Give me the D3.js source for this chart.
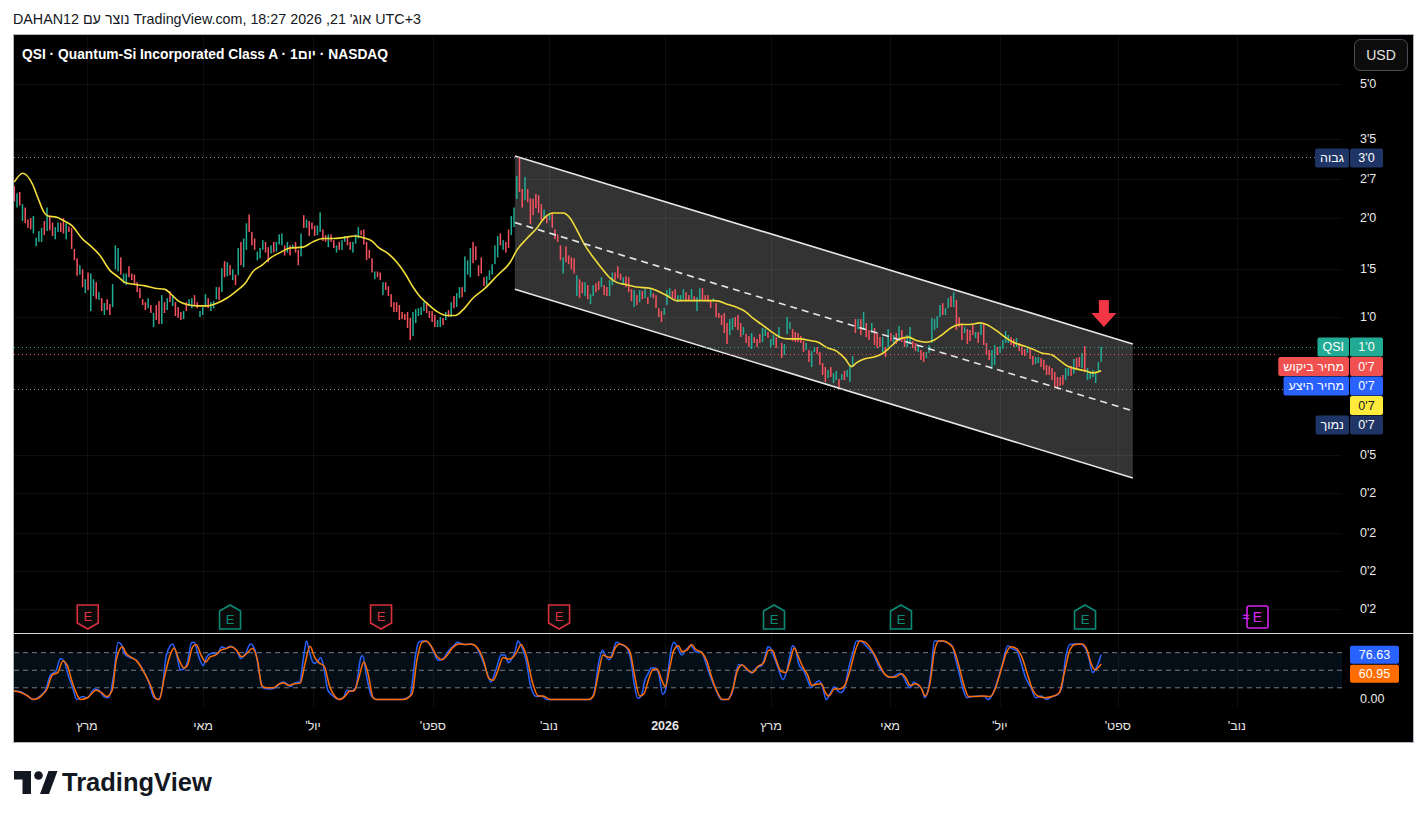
<!DOCTYPE html>
<html><head><meta charset="utf-8">
<script src="https://cdn.jsdelivr.net/npm/d3@7/dist/d3.min.js"></script>
<style>
html,body{margin:0;padding:0;background:#fff;}
body{width:1427px;height:819px;overflow:hidden;}
svg{display:block;font-family:"Liberation Sans",Arial,sans-serif;}
</style></head><body>
<svg id="c" width="1427" height="819"></svg>
<script>
// ---------- DATA ----------
const opens=[2.47,2.13,2.37,1.94,2.13,1.96,1.98,1.78,1.63,1.68,
1.68,1.94,1.81,2.02,1.92,1.71,1.80,1.92,1.98,1.71,
1.87,1.85,1.60,1.50,1.34,1.39,1.179,1.36,1.042,1.155,
1.272,1.124,1.139,1.014,1.131,1.093,1.071,1.39,1.37,1.51,
1.263,1.246,1.42,1.35,1.34,1.272,1.220,1.131,1.108,1.063,
1.086,0.933,1.086,1.116,0.953,1.108,1.049,1.196,1.078,1.108,
1.071,1.035,0.986,1.108,1.078,1.063,1.163,1.108,1.000,1.014,
1.071,1.139,1.042,1.063,1.131,1.229,1.187,1.47,1.325,1.43,
1.29,1.34,1.334,1.68,1.41,1.59,2.03,1.80,1.72,1.48,
1.50,1.59,1.68,1.62,1.55,1.68,1.57,1.65,1.64,1.64,
1.56,1.64,1.61,1.68,1.59,1.52,2.02,1.85,1.94,1.92,
1.88,1.76,1.80,1.83,1.76,1.62,1.77,1.70,1.56,1.68,
1.59,1.68,1.73,1.68,1.56,1.66,1.72,1.82,1.83,1.68,
1.59,1.50,1.298,1.37,1.36,1.163,1.272,1.237,1.171,1.108,
1.108,1.086,1.035,1.021,1.035,0.993,0.877,0.959,1.007,1.014,
1.042,1.108,1.042,1.042,1.014,0.933,0.933,0.993,0.979,1.049,
1.000,1.155,1.071,1.139,1.229,1.187,1.34,1.316,1.68,1.63,
1.43,1.51,1.316,1.246,1.29,1.34,1.44,1.51,1.78,1.59,
1.68,1.83,1.76,1.86,2.26,3.02,2.42,2.24,2.42,2.27,
2.26,2.34,2.32,2.18,1.98,2.01,1.95,2.05,1.83,1.77,
1.64,1.35,1.63,1.53,1.51,1.50,1.155,1.298,1.272,1.155,
1.246,1.093,1.155,1.263,1.281,1.229,1.246,1.229,1.155,1.246,
1.36,1.42,1.35,1.255,1.325,1.316,1.212,1.071,1.163,1.108,
1.196,1.139,1.147,1.147,1.179,1.163,1.063,1.042,1.014,1.086,
1.147,1.196,1.212,1.108,1.116,1.131,1.187,1.163,1.131,1.155,
1.042,1.116,1.220,1.163,1.163,1.124,1.116,1.101,1.028,1.014,
1.028,0.959,0.883,0.914,1.000,1.014,0.959,0.883,0.889,0.877,
0.802,0.871,0.859,0.889,0.841,0.877,0.902,0.813,0.824,0.871,
0.865,0.836,0.769,0.889,0.920,0.920,0.902,0.895,0.877,0.847,
0.796,0.796,0.708,0.785,0.813,0.785,0.728,0.708,0.656,0.708,
0.634,0.647,0.652,0.647,0.689,0.661,0.638,0.708,0.986,0.920,
0.986,0.914,0.959,0.914,0.895,0.927,0.895,0.871,0.785,0.813,
0.813,0.895,0.836,0.895,0.865,0.914,0.871,0.813,0.836,0.847,
0.836,0.785,0.796,0.785,0.753,0.780,0.836,0.914,0.927,1.000,
1.101,1.014,1.063,1.155,1.071,1.124,1.000,0.959,0.895,0.920,
0.914,0.946,0.865,0.902,0.883,0.959,0.836,0.796,0.698,0.718,
0.813,0.780,0.802,0.836,0.836,0.871,0.859,0.813,0.836,0.818,
0.802,0.780,0.802,0.764,0.723,0.728,0.753,0.743,0.718,0.713,
0.703,0.684,0.661,0.661,0.670,0.647,0.666,0.713,0.675,0.753,
0.758,0.703,0.818,0.647,0.652,0.661,0.634,0.684,0.733];
const closes=[2.22,2.35,2.16,2.18,1.91,1.85,1.83,2.01,1.73,1.81,
1.85,1.76,2.13,1.82,1.75,1.86,1.92,1.80,1.78,1.91,
1.80,1.60,1.48,1.33,1.43,1.229,1.298,1.204,1.35,1.298,
1.131,1.187,1.042,1.101,1.049,1.014,1.255,1.64,1.61,1.34,
1.35,1.35,1.316,1.29,1.246,1.187,1.139,1.086,1.049,1.139,
1.028,1.028,0.979,0.953,1.163,1.028,1.139,1.108,1.163,1.007,
0.993,0.979,1.042,1.042,1.131,1.139,1.086,1.063,1.042,1.071,
1.171,1.063,1.108,1.116,1.229,1.124,1.40,1.316,1.46,1.334,
1.39,1.246,1.61,1.43,1.72,1.91,1.80,1.64,1.59,1.57,
1.61,1.70,1.56,1.46,1.64,1.56,1.68,1.77,1.78,1.53,
1.68,1.53,1.65,1.56,1.43,1.78,1.85,1.96,1.75,1.83,
1.75,1.88,2.06,1.69,1.68,1.77,1.68,1.61,1.64,1.59,
1.70,1.75,1.64,1.59,1.68,1.77,1.86,1.76,1.65,1.48,
1.50,1.36,1.37,1.316,1.29,1.272,1.204,1.155,1.071,1.035,
1.035,0.979,0.986,0.979,0.927,0.853,1.035,1.056,1.063,1.071,
1.108,1.028,0.993,0.966,0.933,0.979,1.000,0.946,1.035,1.000,
1.108,1.063,1.179,1.229,1.147,1.52,1.48,1.61,1.45,1.48,
1.325,1.35,1.237,1.325,1.38,1.44,1.64,1.75,1.64,1.70,
1.56,1.61,2.01,2.13,2.65,2.37,2.13,2.63,2.21,1.90,
2.02,2.12,2.05,1.95,2.10,1.91,2.05,1.85,1.71,1.68,
1.48,1.51,1.46,1.44,1.39,1.35,1.334,1.139,1.179,1.272,
1.131,1.171,1.246,1.187,1.204,1.316,1.163,1.155,1.29,1.36,
1.29,1.307,1.29,1.316,1.229,1.187,1.116,1.204,1.086,1.204,
1.131,1.212,1.093,1.220,1.139,1.063,1.000,0.966,1.063,1.204,
1.220,1.139,1.131,1.163,1.163,1.212,1.116,1.124,1.212,1.116,
1.147,1.220,1.124,1.116,1.108,1.063,1.139,1.000,0.993,0.946,
0.895,0.830,0.986,0.993,0.933,0.914,0.871,0.933,0.836,0.813,
0.895,0.836,0.813,0.836,0.927,0.920,0.865,0.859,0.883,0.807,
0.933,0.753,0.830,1.000,0.966,0.847,0.841,0.841,0.836,0.785,
0.836,0.733,0.790,0.813,0.774,0.718,0.670,0.638,0.694,0.661,
0.679,0.689,0.609,0.675,0.647,0.694,0.718,0.764,0.895,0.986,
0.883,1.035,0.871,0.853,0.959,0.824,0.807,0.813,0.871,0.758,
0.920,0.847,0.883,0.830,0.940,0.841,0.813,0.883,0.933,0.807,
0.790,0.824,0.743,0.733,0.785,0.824,0.993,0.986,1.007,1.086,
1.014,1.063,1.139,1.071,1.187,0.914,0.933,0.853,0.933,0.830,
0.847,0.883,0.902,0.836,0.959,0.824,0.769,0.743,0.796,0.824,
0.769,0.818,0.853,0.908,0.883,0.824,0.813,0.865,0.790,0.769,
0.764,0.813,0.748,0.718,0.758,0.758,0.708,0.694,0.670,0.670,
0.647,0.617,0.609,0.621,0.626,0.703,0.703,0.666,0.748,0.698,
0.708,0.780,0.684,0.703,0.684,0.694,0.684,0.733,0.813];
// moving average (bar index, value)
const maPts=[[0,2.54],[3.1,2.70],[6.7,2.50],[8.7,2.27],[10.9,2.06],[12.3,2.01],[15.6,1.99],[17.8,1.95],[21.1,1.88],[24.8,1.72],[27.7,1.64],[31.4,1.53],[35,1.38],[38,1.32],[40.5,1.27],[44.9,1.25],[47.9,1.24],[51.5,1.22],[55.2,1.21],[57,1.18],[59.9,1.12],[63.2,1.09],[66.9,1.08],[70.6,1.08],[74.2,1.10],[77.9,1.14],[81.5,1.20],[84.5,1.26],[87.4,1.37],[90.7,1.43],[93.6,1.50],[97.3,1.56],[100.9,1.61],[105.7,1.62],[109.3,1.68],[113,1.72],[116.7,1.72],[120.4,1.73],[124.8,1.75],[127.7,1.73],[131,1.69],[133.2,1.62],[136.9,1.55],[140.1,1.46],[143.1,1.35],[146,1.23],[148.6,1.15],[151.1,1.10],[154.7,1.04],[158.3,1.01],[161.4,1.01],[164.3,1.05],[168,1.14],[172.4,1.22],[176.8,1.33],[181.6,1.46],[184.1,1.59],[187.7,1.72],[191.4,1.85],[194.3,1.99],[197.3,2.05],[200.9,2.05],[203.5,1.98],[205.3,1.87],[209,1.64],[212,1.51],[215.1,1.40],[218.1,1.31],[220.6,1.27],[224.2,1.25],[227.9,1.23],[232.8,1.22],[235.2,1.20],[238.9,1.16],[242.5,1.12],[247.4,1.12],[252.3,1.12],[256.6,1.12],[261.4,1.09],[264.5,1.07],[267.6,1.04],[270.6,0.99],[273.7,0.95],[276.7,0.91],[280.4,0.87],[283.4,0.86],[287.7,0.86],[291.4,0.85],[294.4,0.84],[297.5,0.81],[301.1,0.79],[304.2,0.75],[306.6,0.71],[308.5,0.73],[311.5,0.75],[315.2,0.76],[318.2,0.78],[321.3,0.82],[324.3,0.86],[327.4,0.87],[330.4,0.85],[334.1,0.84],[336.5,0.85],[340.2,0.89],[343.2,0.93],[346.3,0.95],[349.9,0.95],[353.6,0.96],[356,0.95],[359.7,0.91],[362.8,0.87],[365.8,0.84],[369.5,0.82],[373.1,0.80],[376.2,0.78],[379.9,0.77],[382.9,0.74],[386,0.71],[388.4,0.70],[392.1,0.69],[395.1,0.68],[398,0.69]];
// stochastic %K and %D (bar index, value)
const stochK=[[-0.8,14],[1.7,14],[4.3,8],[6.9,0],[9.4,6],[11.4,16],[13.3,42],[15.2,48],[16.9,70],[18.2,66],[19.7,42],[21.3,21],[22.9,0],[24.9,5],[26.8,3],[29.3,18],[31,16],[32.8,5],[34.5,3],[36.4,42],[38,98],[39.2,94],[40.3,78],[42.2,72],[44.1,69],[46.7,54],[49.2,30],[51.2,3],[52.8,0],[54.1,18],[55.7,76],[58,95],[59.5,75],[60.8,51],[62.1,52],[63.4,64],[64.9,97],[65.9,98],[67.2,78],[69.2,58],[70.4,72],[72.4,79],[74.3,78],[76,90],[77.5,87],[79,91],[81.4,84],[82.9,70],[84.6,78],[86.5,95],[88.4,81],[89.7,45],[91,20],[93.6,18],[95.5,20],[97.4,28],[98.7,30],[100,26],[101.3,22],[102.5,28],[104.5,30],[106,75],[107,100],[108.1,81],[109.6,62],[110.9,64],[112.2,72],[113.5,51],[114.8,16],[116.7,6],[118.6,0],[120.5,3],[121.8,16],[123.1,14],[125,20],[127,73],[127.6,75],[128.9,42],[130.8,6],[132.7,0],[136.6,0],[141.7,0],[144.9,6],[146.9,75],[148.1,98],[149.4,100],[151.4,98],[153.3,84],[155.2,67],[157.1,70],[159.1,84],[161,92],[162.3,98],[164.8,94],[166.8,95],[168.7,92],[171.3,69],[173.2,45],[174.5,30],[176.4,51],[178.3,76],[179.6,76],[180.9,63],[182.2,70],[183.5,84],[184.4,100],[185.6,92],[187.3,69],[189.2,21],[191.2,5],[193.1,6],[195,0],[197.6,0],
[199.8,0],[203.7,0],[207.6,0],[210.8,0],[212.5,15],[213.8,57],[215.4,84],[216.7,73],[217.9,68],[219.2,82],[220.5,98],[221.8,95],[223.1,92],[224.4,87],[225.7,69],[227,27],[228.3,2],[229.6,6],[230.9,33],[232.2,45],[233.2,54],[234.8,54],[236.1,42],[237.4,9],[238.4,15],[239.3,45],[240.6,87],[241.5,98],[242.6,91],[244.5,76],[245.8,84],[247.8,92],[249.7,81],[251.6,81],[253.2,63],[254.9,39],[256.8,18],[258.8,0],[260.7,0],[262.7,9],[264,39],[265.3,60],[266.9,58],[268.5,50],[270.1,45],[271.7,54],[273.7,58],[275,75],[276,90],[276.9,88],[278,75],[279.5,57],[281.5,34],[282.8,48],[284.1,76],[285,92],[286,87],[287.3,60],[289.2,48],[290.5,33],[291.8,20],[293.1,27],[294.7,32],[296,21],[297.3,0],[298.6,9],[300.3,22],[301.5,15],[302.8,12],[304.1,21],[305.4,51],[307.1,81],[308.4,100],[310,100],[311.3,95],[312.8,87],[314.5,78],[316.5,57],[318.4,45],[320.3,38],[322.3,40],[324.2,45],[325.5,40],[326.8,27],[328.1,20],[329.4,30],[331,24],[332.7,15],[333.3,3],[334.6,15],[335.9,57],[336.9,100],[338.2,100],[339.8,100],[341.7,97],[343.4,92],[344.7,69],[346.3,39],[347.6,15],[348.9,3],[350.8,5],[353.4,6],[355.3,5],[356.6,0],[357.9,6],[359.9,30],[361.8,60],[363.8,92],[365.4,87],[367,84],[368.3,69],[370.2,39],[372.2,21],[374.1,3],[376.1,6],[378,0],[380,5],[381.9,8],[383.6,21],[384.9,69],[386.5,94],[388.4,95],[390.3,95],[392.3,87],[393.6,69],[394.9,46],[396.2,54],[398,76.63]];
const stochD=[[-0.8,15],[2.4,12],[4.9,6],[7.1,0],[10.1,7],[12,18],[13.9,42],[15.9,46],[17.8,66],[19.5,57],[21,33],[22.9,9],[24.2,0],[26.8,3],[30,16],[31.9,12],[33.8,5],[35.8,15],[37.4,69],[39.6,90],[40.9,79],[42.8,72],[44.8,66],[47.3,48],[49.9,24],[51.8,2],[53.1,0],[55,39],[57,75],[58.5,88],[60.2,69],[62.1,54],[63.4,58],[65.3,90],[66.6,94],[68.5,75],[70.1,64],[71.7,73],[73.7,76],[75.6,84],[77.5,87],[79.4,90],[81.4,84],[83.3,73],[85.2,79],[87.1,87],[89.1,66],[90.6,24],[92.3,20],[94.8,20],[96.8,26],[98.7,28],[100.6,24],[102.5,27],[104.7,28],[106.4,60],[108.3,91],[109.9,73],[111.5,63],[113.5,57],[115.4,24],[117.3,6],[119.2,0],[121.2,6],[122.7,14],[124.4,15],[126.1,36],[128,64],[129.5,45],[131.4,3],[132.7,0],[137.2,0],[142.4,0],[145.6,9],[147.5,69],[149.2,97],[150.7,100],[152.6,92],[154.6,75],[156.5,68],[158.4,75],[160.4,88],[162.9,95],[165.5,94],[167.4,95],[169.3,90],[171.9,66],[173.8,36],[175.4,33],[177,48],[179,72],[180.9,69],[182.6,72],[184.1,82],[185.6,94],[187.3,78],[189.9,27],[191.8,6],[193.7,6],[196.3,0],
[199.8,0],[205,0],[210.2,0],[212.1,6],[213.8,42],[215.6,76],[217,73],[218.6,72],[219.9,87],[221.8,95],[223.8,91],[225.5,81],[227,45],[229,6],[230.6,10],[232.2,33],[233.8,51],[235.4,52],[237.1,33],[238.4,22],[240,54],[241.5,84],[243.2,92],[244.5,82],[246.2,84],[248,94],[249.7,85],[251.6,81],[253.6,66],[255.3,39],[257.5,12],[259.4,0],[261.4,0],[263.3,21],[264.9,51],[266.6,59],[268.5,51],[270.4,46],[272.4,57],[274.3,62],[276.3,84],[277.6,84],[279.1,66],[280.8,48],[282.5,46],[284.1,66],[285.6,88],[286.9,76],[288.6,57],[290.5,42],[292.1,24],[293.8,26],[295.5,27],[297,12],[298.3,6],[300.3,18],[302.2,18],[304.1,24],[306.1,51],[308,84],[309.7,100],[311.5,98],[313.2,90],[315.2,75],[317.1,57],[319,42],[321,38],[322.9,39],[324.9,44],[326.6,36],[328.1,24],[330.1,27],[331.8,22],[333.6,6],[335.3,27],[336.9,81],[338.5,100],[340.4,100],[342.4,95],[343.9,87],[345.6,63],[347.6,27],[349.5,5],[352.1,5],[354.7,6],[357.3,5],[359.2,18],[361.2,48],[363.4,81],[365.1,90],[367,87],[369,72],[370.9,45],[372.8,18],[374.8,6],[377.4,3],[380,5],[382.6,11],[384.5,45],[386.5,84],[388.4,94],[391,95],[392.9,84],[394.2,63],[395.8,51],[398,60.95]];
// parallel channel anchors (bar index, price)
const channelIdx=[183.3,409.6];
const channelTop=[3.04,0.830];
const channelBottom=[1.212,0.329];
// price axis ticks
const priceTickVals=[5.0,3.42,2.59,1.98,1.39,1.0,0.386,0.297,0.225,0.173,0.133];
const priceTickLabels=["5'0","3'5","2'7","2'0","1'5","1'0","0'5","0'2","0'2","0'2","0'2"];
// time axis
const monthIdx=[26.6,69.1,109.4,153.3,195.8,238.3,277.1,320.7,360.9,404.1,447.7];
const monthLabels=["מרץ","מאי","יול'","ספט'","נוב'","2026","מרץ","מאי","יול'","ספט'","נוב'"];
// earnings markers
const earnIdx=[26.9,79.0,134.3,199.5,278.2,324.7,392.1,454.7];
const earnType=["down","up","down","down","up","up","up","future"];
// price labels
const bidPrice=0.774;
const arrowIdx=399, arrowPrice=1.124;
const highName="גבוה", highText="3'0";
const lblNames=["QSI","מחיר ביקוש","מחיר היצע","","נמוך"];
const lblTexts=["1'0","0'7","0'7","0'7","0'7"];
const lblFills=["#22ab94","#f0504f","#2962ff","#ffeb3b","#1e3566"];
const lblInk=["#fff","#fff","#fff","#131722","#fff"];
const stochLast=[76.63,60.95];
const stochLastText=["76.63","60.95"];

// ---------- DRAW ----------
const svg=d3.select('#c');
const UP='#22ab94', DN='#f7525f';
const x=d3.scaleLinear().domain([0,486.2]).range([14.3,1342]);
const y=d3.scaleLog().domain([1,5]).range([317,83.95]);
const ys=d3.scaleLinear().domain([0,100]).range([699.5,641]);

// header
svg.append('text').attr('x',13).attr('y',24).attr('font-size',14.3).attr('fill','#131722')
  .text("DAHAN12 נוצר עם TradingView.com, אוג' 21, 2026 18:27 UTC+3");

// frame
svg.append('rect').attr('x',13.5).attr('y',34.5).attr('width',1400).attr('height',708)
  .attr('fill','#000').attr('stroke','#b2b5be');
const defs=svg.append('defs');
defs.append('clipPath').attr('id','cm').append('rect').attr('x',14).attr('y',35).attr('width',1328).attr('height',598);
defs.append('clipPath').attr('id','cs').append('rect').attr('x',14).attr('y',634).attr('width',1328).attr('height',73);

// grid
const grid=svg.append('g').attr('stroke','rgba(255,255,255,0.055)').attr('stroke-width',1);
monthIdx.forEach(i=>{const xx=Math.round(x(i))+0.5;grid.append('line').attr('x1',xx).attr('x2',xx).attr('y1',35).attr('y2',707);});
priceTickVals.forEach(v=>{const yy=Math.round(y(v))+0.5; if(yy<632) grid.append('line').attr('x1',14).attr('x2',1342).attr('y1',yy).attr('y2',yy);});

const main=svg.append('g').attr('clip-path','url(#cm)');

// channel fill
const cx0=x(channelIdx[0]), cx1=x(channelIdx[1]);
main.append('path').attr('d',`M${cx0},${y(channelTop[0])}L${cx1},${y(channelTop[1])}L${cx1},${y(channelBottom[1])}L${cx0},${y(channelBottom[0])}Z`)
  .attr('fill','rgba(255,255,255,0.2)');

// dotted price lines
function dotted(v,color,x2){main.append('line').attr('x1',14).attr('x2',x2).attr('y1',Math.round(y(v))+0.5).attr('y2',Math.round(y(v))+0.5)
  .attr('stroke',color).attr('stroke-width',1).attr('stroke-dasharray','1,3');}

// candles
const bars=opens.map((o,i)=>({i,o,c:closes[i]}));
main.append('g').selectAll('rect').data(bars).join('rect')
  .attr('x',d=>x(d.i)-0.75).attr('width',1.5)
  .attr('y',d=>Math.min(y(d.o),y(d.c)))
  .attr('height',d=>Math.max(1,Math.abs(y(d.o)-y(d.c))))
  .attr('fill',d=>d.c>=d.o?UP:DN);

// moving average
main.append('path').datum(maPts).attr('fill','none').attr('stroke','#f2dc3a').attr('stroke-width',1.6)
  .attr('d',d3.line().x(d=>x(d[0])).y(d=>y(d[1])).curve(d3.curveMonotoneX));

// channel lines
const midL=Math.sqrt(channelTop[0]*channelBottom[0]), midR=Math.sqrt(channelTop[1]*channelBottom[1]);
[[channelTop,null],[channelBottom,null],[[midL,midR],'7,5']].forEach(([p,dash])=>{
  const l=main.append('line').attr('x1',cx0).attr('x2',cx1).attr('y1',y(p[0])).attr('y2',y(p[1]))
    .attr('stroke','#e6e6e6').attr('stroke-width',1.6);
  if(dash) l.attr('stroke-dasharray',dash);
});

// red arrow
const ag=main.append('g').attr('transform',`translate(${x(arrowIdx)},${y(arrowPrice)})`).attr('fill','#f23645');
ag.append('rect').attr('x',-5).attr('y',0).attr('width',10).attr('height',13);
ag.append('path').attr('d','M-12.5,13L12.5,13L0,27Z');

// earnings markers
earnIdx.forEach((idx,k)=>{
  const t=earnType[k]; const g=svg.append('g').attr('transform',`translate(${x(idx)},617)`);
  if(t==='future'){
    g.append('rect').attr('x',-9).attr('y',-11).attr('width',21).attr('height',22).attr('rx',2)
      .attr('fill','#000').attr('stroke','#d623f0').attr('stroke-width',1.6);
    g.append('text').attr('x',1.5).attr('y',0).attr('text-anchor','middle').attr('dominant-baseline','central')
      .attr('font-size',14).attr('fill','#d623f0').text('E');
    g.append('text').attr('x',-10).attr('y',0).attr('text-anchor','middle').attr('dominant-baseline','central')
      .attr('font-size',12).attr('font-weight','bold').attr('fill','#d623f0').text('≈');
  } else {
    const col=t==='up'?'#0c8a76':'#d9303d';
    const d=t==='up'?'M-10.5,-6L0,-12L10.5,-6L10.5,12L-10.5,12Z':'M-10.5,-12L10.5,-12L10.5,6L0,12L-10.5,6Z';
    g.append('path').attr('d',d).attr('fill','#0a0a0a').attr('stroke',col).attr('stroke-width',1.6);
    g.append('text').attr('x',0).attr('y',t==='up'?2:-1).attr('text-anchor','middle').attr('dominant-baseline','central')
      .attr('font-size',13).attr('fill',col).text('E');
  }
});

// title
svg.append('text').attr('x',22).attr('y',59).attr('font-size',13.8).attr('font-weight','bold').attr('fill','#fff')
  .text("QSI · Quantum-Si Incorporated Class A · 1יום · NASDAQ");

// USD button
svg.append('rect').attr('x',1354.5).attr('y',39.5).attr('width',53).attr('height',31).attr('rx',6)
  .attr('fill','#0c0c0c').attr('stroke','#4a4d57');
svg.append('text').attr('x',1381).attr('y',55).attr('text-anchor','middle').attr('dominant-baseline','central')
  .attr('font-size',14).attr('fill','#e6e6e6').text('USD');

// price axis ticks
priceTickVals.forEach((v,k)=>{
  svg.append('text').attr('x',1360).attr('y',y(v)).attr('dominant-baseline','central')
    .attr('font-size',12.5).attr('fill','#eaeaea').text(priceTickLabels[k]);
});

// axis label boxes
function axisBox(yc,name,val,fill,ink,lineVal,lineCol){
  const g=svg.append('g');
  g.append('rect').attr('x',1350).attr('y',yc-9.5).attr('width',33).attr('height',19).attr('rx',2).attr('fill',fill);
  g.append('text').attr('x',1366.5).attr('y',yc+0.5).attr('text-anchor','middle').attr('dominant-baseline','central')
    .attr('font-size',12.5).attr('fill',ink).text(val);
  let left=1349;
  if(name){
    const t=g.append('text').attr('x',1344).attr('y',yc+0.5).attr('text-anchor','end').attr('dominant-baseline','central')
      .attr('font-size',12.5).attr('fill',ink).text(name);
    const w=t.node().getComputedTextLength();
    left=1349-w-10;
    g.insert('rect',':first-child').attr('x',left).attr('y',yc-9.5).attr('width',1349-left).attr('height',19).attr('rx',2).attr('fill',fill);
  }
  if(lineVal!=null) dotted(lineVal,lineCol,left);
}
const hiVal=d3.max(bars,d=>Math.max(d.o,d.c));
const loVal=d3.min(bars,d=>Math.min(d.o,d.c));
const lastClose=closes[closes.length-1];
axisBox(y(hiVal)+1,highName,highText,'#1e3566','#fff',hiVal,'#8a8d96');
const lineVals=[lastClose,bidPrice,null,null,loVal];
const lineCols=['#22ab94','#f0504f',null,null,'#8a8d96'];
let yc=y(lastClose);
lblNames.forEach((n,k)=>{
  axisBox(yc,n,lblTexts[k],lblFills[k],lblInk[k],lineVals[k],lineCols[k]);
  yc+=19.5;
});

// ---------- stochastic pane ----------
svg.append('line').attr('x1',14).attr('x2',1413).attr('y1',633.5).attr('y2',633.5).attr('stroke','#d8d8d8').attr('stroke-width',1);
const sp=svg.append('g').attr('clip-path','url(#cs)');
sp.append('rect').attr('x',14).attr('width',1328).attr('y',ys(80)).attr('height',ys(20)-ys(80)).attr('fill','rgba(33,150,243,0.09)');
[80,50,20].forEach(v=>sp.append('line').attr('x1',14).attr('x2',1342).attr('y1',ys(v)).attr('y2',ys(v))
  .attr('stroke','#787b86').attr('stroke-width',1).attr('stroke-dasharray','5,4'));
const sl=d3.line().x(d=>x(d[0])).y(d=>ys(d[1])).curve(d3.curveMonotoneX);
sp.append('path').datum(stochK).attr('fill','none').attr('stroke','#2962ff').attr('stroke-width',1.5).attr('d',sl);
sp.append('path').datum(stochD).attr('fill','none').attr('stroke','#ff6d00').attr('stroke-width',1.5).attr('d',sl);
// stoch labels
const sFills=['#2962ff','#ff6d00'];
let sy=ys(stochLast[0]);
stochLast.forEach((v,k)=>{
  const yy=k===0?ys(v):Math.max(ys(v),sy+19);
  svg.append('rect').attr('x',1350).attr('y',yy-9).attr('width',49).attr('height',18).attr('rx',2).attr('fill',sFills[k]);
  svg.append('text').attr('x',1374.5).attr('y',yy+0.5).attr('text-anchor','middle').attr('dominant-baseline','central')
    .attr('font-size',12.5).attr('fill','#fff').text(stochLastText[k]);
  sy=yy;
});
svg.append('text').attr('x',1360).attr('y',ys(0)-1).attr('dominant-baseline','central').attr('font-size',12.5)
  .attr('fill','#eaeaea').text('0.00');

// time axis
monthIdx.forEach((i,k)=>{
  const t=svg.append('text').attr('x',x(i)).attr('y',726).attr('text-anchor','middle').attr('dominant-baseline','central')
    .attr('font-size',12.5).attr('fill','#e6e6e6').text(monthLabels[k]);
  if(/^\d+$/.test(monthLabels[k])) t.attr('font-weight','bold'); else t.attr('direction','rtl').attr('unicode-bidi','embed');
});

// bottom logo
const lg=svg.append('g').attr('fill','#131722');
lg.append('path').attr('d','M14,771H31V794H22.5V779.5H14Z');
lg.append('circle').attr('cx',38.5).attr('cy',775.5).attr('r',4.3);
lg.append('path').attr('d','M40,794L48.5,771H57.5L49,794Z');
svg.append('text').attr('x',62).attr('y',791).attr('font-size',25.5).attr('font-weight','bold').attr('fill','#131722')
  .text('TradingView');
</script>
</body></html>
